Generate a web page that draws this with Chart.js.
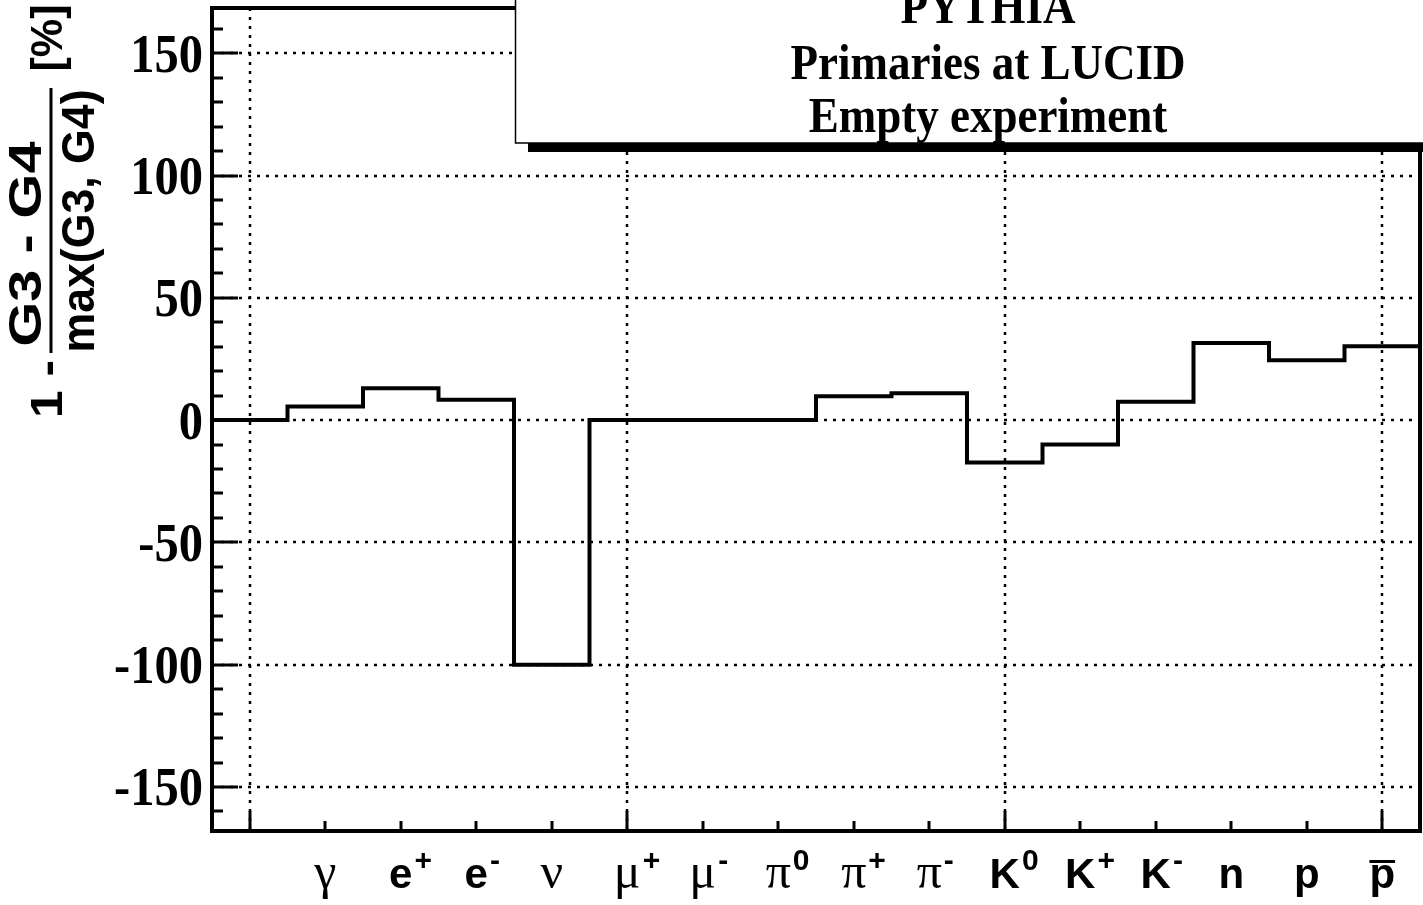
<!DOCTYPE html>
<html>
<head>
<meta charset="utf-8">
<script src="https://cdn.jsdelivr.net/npm/chart.js@4.4.1/dist/chart.umd.min.js"></script>
<style>
  html, body { margin: 0; padding: 0; background: #fff; overflow: hidden; }
</style>
</head>
<body>
<canvas id="myChart" width="1423" height="905"></canvas>
<script>
// particle categories (bin 0 has no label)
const particles = ['', 'γ', 'e', 'e', 'ν', 'μ', 'μ', 'π', 'π', 'π', 'K', 'K', 'K', 'n', 'p', 'p'];
const charges   = ['', '', '+', '-', '', '+', '-', '0', '+', '-', '0', '+', '-', '', '', ''];
const antiBar   = [false, false, false, false, false, false, false, false, false, false, false, false, false, false, false, true];

// 1 - (G3-G4)/max(G3,G4) in percent, one value per bin
const diffPercent = [0, 5.6, 13.0, 8.3, -100, 0, 0, 0, 9.8, 11.0, -17.3, -10.0, 7.5, 31.5, 24.5, 30.2];

const yGridValues = [-150, -100, -50, 0, 50, 100, 150];
const xMajorTicks = [0, 5, 10, 15];
const legendLines = ['PYTHIA', 'Primaries at LUCID', 'Empty experiment'];

const greekLetters = 'γνμπ';

// histogram outline: one point per bin edge, last edge repeats last bin
const histPoints = [];
for (let i = 0; i <= diffPercent.length; i++) {
  histPoints.push({ x: i - 0.5, y: diffPercent[Math.min(i, diffPercent.length - 1)] });
}

function rotText(ctx, text, font, xBase, yCenter, len) {
  ctx.save();
  ctx.translate(xBase, yCenter);
  ctx.rotate(-Math.PI / 2);
  ctx.font = font;
  const w = ctx.measureText(text).width;
  ctx.scale(len / w, 1);
  ctx.textAlign = 'center';
  ctx.textBaseline = 'alphabetic';
  ctx.fillText(text, 0, 0);
  ctx.restore();
}

function noPad(s) {
  s.paddingTop = 0;
  s.paddingBottom = 0;
  s.paddingLeft = 0;
  s.paddingRight = 0;
}

const rootStyle = {
  id: 'rootStyle',
  beforeDatasetsDraw(chart) {
    const ctx = chart.ctx;
    const a = chart.chartArea;
    const xs = chart.scales.x, ys = chart.scales.y;
    ctx.save();
    ctx.strokeStyle = '#000';
    ctx.lineWidth = 2.5;
    ctx.setLineDash([3, 6]);
    yGridValues.forEach(v => {
      const y = Math.round(ys.getPixelForValue(v));
      ctx.beginPath();
      ctx.moveTo(a.left, y);
      ctx.lineTo(a.right, y);
      ctx.stroke();
    });
    xMajorTicks.forEach(v => {
      const x = Math.round(xs.getPixelForValue(v));
      ctx.beginPath();
      ctx.moveTo(x, a.top);
      ctx.lineTo(x, a.bottom);
      ctx.stroke();
    });
    ctx.restore();
  },
  afterDatasetsDraw(chart) {
    const ctx = chart.ctx;
    const a = chart.chartArea;
    const xs = chart.scales.x, ys = chart.scales.y;
    ctx.save();
    ctx.strokeStyle = '#000';
    ctx.fillStyle = '#000';

    // frame
    ctx.lineWidth = 4;
    ctx.strokeRect(a.left, a.top, a.right - a.left, a.bottom - a.top);

    // y ticks, inside the frame
    ctx.lineWidth = 3;
    for (let v = -160; v <= 160; v += 10) {
      const y = Math.round(ys.getPixelForValue(v));
      const len = v % 50 === 0 ? 26 : 11;
      ctx.beginPath();
      ctx.moveTo(a.left, y);
      ctx.lineTo(a.left + len, y);
      ctx.stroke();
    }
    // x ticks
    for (let v = 0; v < particles.length; v++) {
      const x = Math.round(xs.getPixelForValue(v));
      const len = xMajorTicks.includes(v) ? 20 : 10;
      ctx.beginPath();
      ctx.moveTo(x, a.bottom);
      ctx.lineTo(x, a.bottom - len);
      ctx.stroke();
    }

    // y tick labels from the scale's ticks, slightly tall like the original
    ctx.font = 'bold 48.5px "Liberation Serif"';
    ctx.textAlign = 'right';
    ctx.textBaseline = 'alphabetic';
    ys.ticks.forEach(t => {
      const y = ys.getPixelForValue(t.value);
      ctx.save();
      ctx.translate(a.left - 9, y + 18.5);
      ctx.scale(1, 1.12);
      ctx.fillText(String(t.value), 0, 0);
      ctx.restore();
    });

    // x labels with superscripts
    const baseFont = 'bold 42px "Liberation Sans"';
    const greekFont = '50px "Liberation Serif"';
    const supFont = 'bold 30px "Liberation Sans"';
    const baseY = a.bottom + 57;
    const supY = a.bottom + 39;
    ctx.textAlign = 'left';
    particles.forEach((p, i) => {
      if (!p) return;
      const f = greekLetters.includes(p) ? greekFont : baseFont;
      ctx.font = f;
      const wb = ctx.measureText(p).width;
      const x0 = xs.getPixelForValue(i) - wb / 2;
      ctx.fillText(p, x0, baseY);
      if (charges[i]) {
        ctx.font = supFont;
        ctx.fillText(charges[i], x0 + wb + 2, supY);
      }
      if (antiBar[i]) {
        ctx.fillRect(x0, a.bottom + 29, wb, 3);
      }
    });

    // y title: 1 - (G3 - G4) / max(G3, G4) [%]
    const tFont = 'bold 45px "Liberation Sans"';
    rotText(ctx, '1 -', tFont, 62, 389, 58);
    rotText(ctx, 'G3 - G4', 'bold 46px "Liberation Sans"', 41, 244, 205);
    rotText(ctx, 'max(G3, G4)', 'bold 47px "Liberation Sans"', 94, 221, 263);
    rotText(ctx, '[%]', tFont, 62, 38, 67);
    ctx.fillRect(49.5, 88, 3, 265);
    ctx.restore();
  },
  afterDraw(chart) {
    // text box with shadow, top right
    const ctx = chart.ctx;
    const W = chart.width;
    ctx.save();
    ctx.fillStyle = '#000';
    ctx.fillRect(528, 0, W - 528, 152);
    ctx.fillStyle = '#fff';
    ctx.fillRect(515, -10, W, 153);
    ctx.strokeStyle = '#000';
    ctx.lineWidth = 1.5;
    ctx.strokeRect(515.5, -10, W, 153);
    ctx.fillStyle = '#000';
    ctx.font = 'bold 45px "Liberation Serif"';
    ctx.textAlign = 'center';
    ctx.textBaseline = 'alphabetic';
    const baselines = [23, 79, 132];
    legendLines.forEach((t, i) => {
      ctx.save();
      ctx.translate(988, baselines[i]);
      ctx.scale(1, 1.12);
      ctx.fillText(t, 0, 0);
      ctx.restore();
    });
    ctx.restore();
  }
};

const ctx = document.getElementById('myChart').getContext('2d');
const myChart = new Chart(ctx, {
  type: 'line',
  data: {
    datasets: [{
      label: 'diff',
      data: histPoints,
      stepped: 'before',
      borderColor: '#000',
      borderWidth: 4,
      borderJoinStyle: 'miter',
      pointRadius: 0,
      fill: false,
    }],
  },
  options: {
    responsive: false,
    animation: false,
    layout: { padding: { left: 0, right: 3, top: 8, bottom: 0 } },
    scales: {
      x: {
        type: 'linear',
        min: -0.5,
        max: 15.5,
        grid: { display: false, drawTicks: false },
        border: { display: false },
        ticks: { display: false },
        afterFit: s => { s.height = 74; noPad(s); },
      },
      y: {
        min: -168,
        max: 168.5,
        grid: { display: false, drawTicks: false },
        border: { display: false },
        ticks: { display: false, stepSize: 50, includeBounds: false },
        afterFit: s => { s.width = 212; noPad(s); },
      },
    },
    plugins: {
      legend: { display: false },
      tooltip: { enabled: false },
    },
  },
  plugins: [rootStyle],
});
</script>
</body>
</html>
